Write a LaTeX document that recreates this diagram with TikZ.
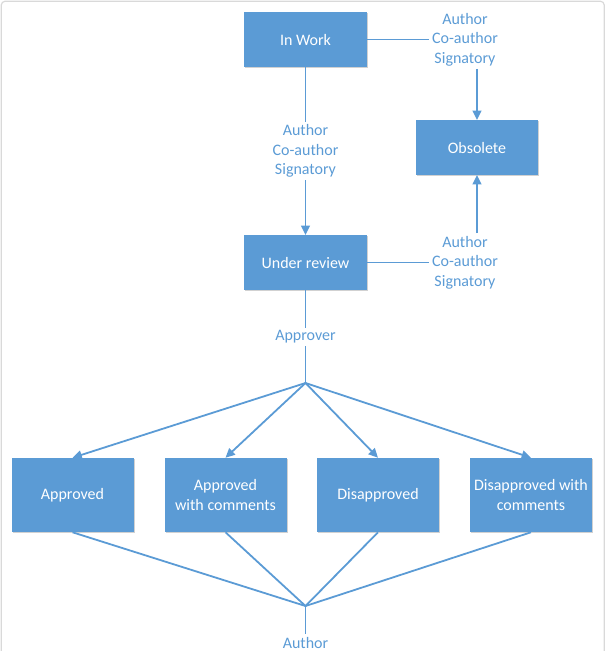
\documentclass[tikz,border=0pt]{standalone}
\usepackage{fontspec}
\setmainfont{Carlito}
\usetikzlibrary{arrows.meta,shadows}
\definecolor{obl}{HTML}{5B9BD5}
\definecolor{frm}{HTML}{D9D9D9}
\tikzset{
  stbox/.style={rectangle, fill=obl, text=white, align=center,
    font=\fontsize{12}{14.6}\selectfont, inner sep=0pt,
    drop shadow={shadow xshift=0.8pt, shadow yshift=-0.8pt, opacity=0.18, fill=black}},
  lab/.style={text=obl, align=center, font=\fontsize{12}{14.6}\selectfont, inner sep=2pt},
  conn/.style={draw=obl, line width=1.35pt},
  arr/.style={conn, -{Triangle[length=7pt, width=6.5pt]}}
}
\begin{document}
\begin{tikzpicture}[x=0.75pt, y=-0.75pt]
\useasboundingbox (0,0) rectangle (606,651);
\begin{scope}
\clip (0,0) rectangle (606,651);
\draw[frm, line width=0.9pt, rounded corners=3pt] (1.2,1.2) rectangle (604.3,700);
\end{scope}
% state boxes
\node[stbox, minimum width=92pt, minimum height=41pt] (inwork) at (305.5,39.5) {In Work};
\node[stbox, minimum width=91.5pt, minimum height=41pt] (obsolete) at (477,147.5) {Obsolete};
\node[stbox, minimum width=92pt, minimum height=41pt] (review) at (305.5,262.5) {Under review};
\node[stbox, minimum width=91.5pt, minimum height=55.5pt] (appr) at (72.5,495) {Approved};
\node[stbox, minimum width=91.5pt, minimum height=55.5pt] (apprc) at (225.5,495) {Approved\\with comments};
\node[stbox, minimum width=91.5pt, minimum height=55.5pt] (disappr) at (378,495) {Disapproved};
\node[stbox, minimum width=91.5pt, minimum height=55.5pt] (disapprc) at (531,495) {Disapproved with\\comments};
% labels
\node[lab] (lab1) at (305.5,151) {Author\\Co-author\\Signatory};
\node[lab] (lab2) at (465,39.5) {Author\\Co-author\\Signatory};
\node[lab] (lab3) at (465,262.5) {Author\\Co-author\\Signatory};
\node[lab] (approver) at (305.5,337) {Approver};
\node[lab] (author) at (305.5,643) {Author};
\coordinate (j1) at (305.5,383);
\coordinate (j2) at (305.5,606);
% connectors
\draw[conn] (inwork.east) -- (inwork.east -| lab2.west);
\draw[conn] (inwork.south) -- (lab1.north);
\draw[arr] (lab1.south) -- (review.north);
\draw[arr] (lab2.south -| obsolete.north) -- (obsolete.north);
\draw[conn] (review.east) -- (review.east -| lab3.west);
\draw[arr] (lab3.north -| obsolete.south) -- (obsolete.south);
\draw[conn] (review.south) -- (approver.north);
\draw[conn] (approver.south) -- (j1);
\draw[arr] (j1) -- (appr.north);
\draw[arr] (j1) -- (apprc.north);
\draw[arr] (j1) -- (disappr.north);
\draw[arr] (j1) -- (disapprc.north);
\draw[conn] (appr.south) -- (j2);
\draw[conn] (apprc.south) -- (j2);
\draw[conn] (disappr.south) -- (j2);
\draw[conn] (disapprc.south) -- (j2);
\draw[conn] (j2) -- (author.north);
\end{tikzpicture}
\end{document}
